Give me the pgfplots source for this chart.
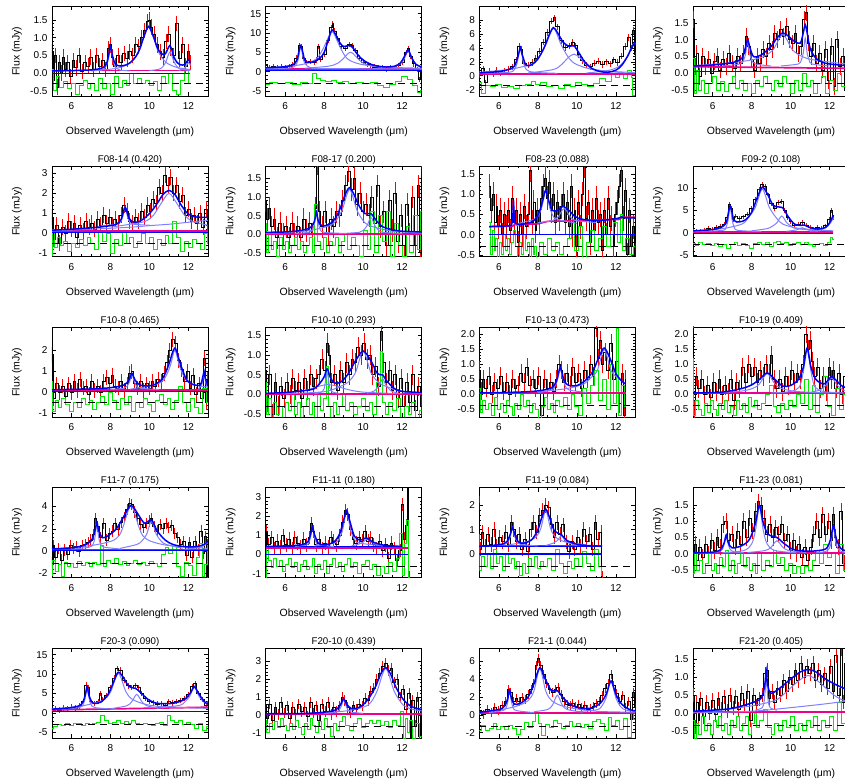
\documentclass[border=0pt]{standalone}
\usepackage{fontspec}
\setmainfont{Liberation Sans}
\usepackage{pgfplots}
\pgfplotsset{compat=1.18}
\usepackage{pgfplotstable}
\usepgfplotslibrary{groupplots}
\usetikzlibrary{calc}
\definecolor{lgreen}{RGB}{0,235,0}
\pgfplotsset{
  spec/.style={draw=none, mark=none, error bars/.cd, y dir=both, y fixed=#1, error mark=none, error bar style={draw=red, line width=1.0pt}},
  binned/.style={black, line width=0.9pt, const plot mark mid},
  resid/.style={lgreen, line width=1.0pt, const plot mark mid},
  fit/.style={blue, line width=1.5pt, smooth},
  comp/.style={blue!50!white, line width=1.0pt, smooth},
  cont/.style={magenta, line width=1.7pt},
  zero/.style={blue, line width=1.1pt},
  off/.style={black, line width=0.8pt, dash pattern=on 7pt off 5pt},
  dec/.style={yticklabel style={/pgf/number format/fixed,/pgf/number format/fixed zerofill,/pgf/number format/precision=1}},
}
% ---------------- data: binned spectra and residuals ----------------
\pgfplotstableread[row sep=\\]{x y\\5.0 0.6\\5.1 -0.2\\5.2 0.5\\5.3 -0.4\\5.4 0.3\\5.5 0.0\\5.6 0.45\\5.7 0.1\\5.8 0.3\\5.95 -0.1\\6.1 0.35\\6.25 0.15\\6.4 0.5\\6.55 0.05\\6.7 0.3\\6.85 0.2\\7.0 0.45\\7.15 0.1\\7.3 0.5\\7.45 0.2\\7.6 0.35\\7.75 0.1\\7.9 0.7\\8.0 0.8\\8.1 0.45\\8.25 0.2\\8.4 0.5\\8.55 0.3\\8.7 0.55\\8.85 0.4\\9.0 0.6\\9.15 0.5\\9.3 0.8\\9.45 0.75\\9.6 1.0\\9.75 1.2\\9.9 1.45\\10.0 1.5\\10.1 1.3\\10.25 1.1\\10.4 0.8\\10.55 0.6\\10.7 0.45\\10.85 0.9\\11.0 1.1\\11.1 0.7\\11.25 0.5\\11.4 1.4\\11.55 0.4\\11.7 0.8\\11.85 0.2\\12.0 0.6\\12.1 0.3\\}\rA
\pgfplotstableread[row sep=\\]{x y\\5.0 0.1\\5.15 -0.5\\5.3 -0.1\\5.5 -0.4\\5.7 -0.25\\5.9 -0.45\\6.1 -0.3\\6.3 -0.6\\6.5 -0.35\\6.7 -0.2\\6.9 -0.45\\7.1 -0.3\\7.3 -0.5\\7.5 -0.15\\7.7 -0.45\\7.9 -0.3\\8.1 -0.6\\8.3 -0.1\\8.5 -0.4\\8.7 -0.2\\8.9 -0.35\\9.1 0.0\\9.3 -0.3\\9.5 -0.15\\9.7 -0.3\\9.9 -0.2\\10.1 -0.35\\10.3 -0.25\\10.5 -0.5\\10.7 -0.1\\10.9 -0.3\\11.1 0.0\\11.3 -0.5\\11.5 -0.6\\11.7 -0.2\\11.9 0.1\\12.1 -0.3\\}\gA
\pgfplotstableread[row sep=\\]{x y\\5.0 1.5\\5.2 1.0\\5.4 1.3\\5.6 0.9\\5.8 1.2\\6.0 1.1\\6.2 1.4\\6.4 1.8\\6.6 3.5\\6.75 6.8\\6.85 6.5\\6.95 3.5\\7.1 2.4\\7.3 2.6\\7.5 2.3\\7.6 3.0\\7.7 6.5\\7.8 3.2\\8.0 4.5\\8.2 8.0\\8.35 11.5\\8.45 12.5\\8.55 10.5\\8.7 8.5\\8.9 6.5\\9.1 6.0\\9.3 7.0\\9.45 6.8\\9.6 5.5\\9.8 3.5\\10.0 2.5\\10.2 1.8\\10.4 1.6\\10.6 1.2\\10.8 1.0\\11.0 0.9\\11.2 0.7\\11.4 1.1\\11.6 0.8\\11.8 1.5\\12.0 2.5\\12.2 5.0\\12.3 6.0\\12.45 4.0\\12.6 2.0\\12.8 0.5\\12.9 -2.0\\13.0 1.0\\}\rB
\pgfplotstableread[row sep=\\]{x y\\5.0 -3.2\\5.4 -2.8\\5.8 -3.1\\6.2 -2.9\\6.6 -3.3\\7.0 -2.8\\7.3 -3.0\\7.5 -0.6\\7.7 -1.8\\7.9 -2.2\\8.2 -2.6\\8.5 -2.4\\8.8 -2.9\\9.1 -2.5\\9.4 -3.0\\9.8 -2.7\\10.2 -3.1\\10.6 -2.9\\10.9 -3.5\\11.2 -4.0\\11.5 -3.4\\11.8 -2.6\\12.1 -1.2\\12.4 -2.0\\12.7 -3.5\\12.9 -5.5\\13.0 -5.0\\}\gB
\pgfplotstableread[row sep=\\]{x y\\5.0 0.2\\5.2 1.0\\5.3 -1.0\\5.5 0.6\\5.7 0.3\\5.9 0.8\\6.1 0.4\\6.3 0.7\\6.5 0.9\\6.7 1.3\\6.9 2.3\\7.05 4.2\\7.15 3.8\\7.3 1.8\\7.5 1.5\\7.7 1.9\\7.9 2.5\\8.1 3.5\\8.3 4.8\\8.5 6.2\\8.7 7.8\\8.85 8.3\\9.0 7.0\\9.2 5.0\\9.4 4.0\\9.6 4.3\\9.8 4.8\\9.95 4.3\\10.1 3.0\\10.3 2.2\\10.5 1.5\\10.7 1.3\\10.9 1.8\\11.1 2.1\\11.3 1.6\\11.5 2.0\\11.7 1.7\\11.9 2.3\\12.1 1.9\\12.3 2.8\\12.5 4.2\\12.65 5.5\\12.8 4.0\\12.9 6.5\\13.0 3.0\\}\rC
\pgfplotstableread[row sep=\\]{x y\\5.0 -1.0\\5.2 -2.5\\5.4 -1.4\\5.7 -1.6\\6.0 -1.3\\6.3 -1.7\\6.6 -1.5\\6.9 -1.8\\7.2 -1.4\\7.5 -1.2\\7.8 -0.8\\8.0 -1.3\\8.3 -1.0\\8.6 -1.6\\8.9 -1.4\\9.2 -1.8\\9.5 -1.2\\9.8 -1.6\\10.1 -0.9\\10.4 -1.3\\10.7 -1.5\\11.0 -1.1\\11.3 -0.4\\11.6 -0.8\\11.9 0.2\\12.1 -0.3\\12.3 0.5\\12.5 -0.4\\12.7 0.8\\12.85 -0.2\\12.9 -2.8\\13.0 -2.8\\}\gC
\pgfplotstableread[row sep=\\]{x y\\5.0 1.6\\5.1 0.2\\5.2 0.6\\5.35 -0.1\\5.5 0.5\\5.65 0.2\\5.8 0.4\\5.95 0.0\\6.1 0.35\\6.25 0.5\\6.4 0.1\\6.55 0.4\\6.7 0.2\\6.85 0.6\\7.0 0.3\\7.15 0.15\\7.3 0.5\\7.45 0.3\\7.6 0.6\\7.75 1.1\\7.85 0.8\\8.0 0.4\\8.15 0.1\\8.3 0.5\\8.45 0.3\\8.6 0.7\\8.75 0.5\\8.9 0.9\\9.05 0.7\\9.2 1.2\\9.35 1.0\\9.5 1.3\\9.65 1.1\\9.8 1.4\\9.95 1.0\\10.1 0.9\\10.25 1.2\\10.4 0.6\\10.55 0.8\\10.7 1.6\\10.8 1.8\\10.9 0.9\\11.05 0.5\\11.2 0.9\\11.35 0.3\\11.5 0.6\\11.65 0.1\\11.8 0.7\\11.95 -0.2\\12.1 0.8\\12.25 -0.4\\12.4 1.0\\12.55 0.2\\12.7 0.5\\12.85 -0.5\\13.0 0.6\\}\rD
\pgfplotstableread[row sep=\\]{x y\\5.0 0.45\\5.1 -0.6\\5.2 0.1\\5.35 -0.5\\5.5 -0.2\\5.7 -0.6\\5.9 -0.3\\6.1 -0.1\\6.3 -0.5\\6.5 -0.25\\6.7 -0.55\\6.9 -0.3\\7.1 -0.1\\7.3 -0.45\\7.5 -0.2\\7.7 -0.5\\7.9 -0.3\\8.1 -0.6\\8.3 -0.2\\8.5 -0.4\\8.7 -0.1\\8.9 -0.3\\9.1 -0.5\\9.3 -0.2\\9.5 -0.4\\9.7 -0.1\\9.9 -0.3\\10.1 -0.6\\10.3 -0.2\\10.5 -0.5\\10.7 0.0\\10.9 -0.4\\11.1 -0.2\\11.3 -0.6\\11.5 -0.3\\11.7 -0.1\\11.9 -0.6\\12.1 -0.2\\12.3 -0.5\\12.5 0.0\\12.7 -0.4\\12.9 -0.2\\13.0 -0.6\\}\gD
\pgfplotstableread[row sep=\\]{x y\\5.0 0.8\\5.1 -0.3\\5.25 0.4\\5.4 -0.5\\5.55 0.3\\5.7 0.0\\5.85 0.6\\6.0 0.2\\6.15 0.5\\6.3 -0.2\\6.45 0.4\\6.6 0.1\\6.75 0.6\\6.9 0.3\\7.05 0.5\\7.2 0.2\\7.35 0.7\\7.5 0.4\\7.65 0.9\\7.8 0.5\\7.95 0.8\\8.1 0.4\\8.25 0.7\\8.4 0.5\\8.55 0.9\\8.7 1.4\\8.85 1.1\\9.0 0.6\\9.15 0.5\\9.3 0.8\\9.45 0.6\\9.6 1.1\\9.75 0.8\\9.9 1.4\\10.05 1.1\\10.2 1.7\\10.35 1.5\\10.5 2.3\\10.65 2.0\\10.8 2.9\\10.95 2.4\\11.1 2.8\\11.25 2.0\\11.4 2.4\\11.55 1.6\\11.7 1.9\\11.85 0.9\\12.0 1.2\\12.15 0.6\\12.3 0.9\\12.45 0.5\\12.6 1.0\\12.75 0.3\\12.9 1.2\\13.0 0.4\\}\rE
\pgfplotstableread[row sep=\\]{x y\\5.0 -1.1\\5.1 0.2\\5.2 -0.7\\5.35 -0.2\\5.5 -0.6\\5.7 -0.4\\5.9 -0.9\\6.1 -0.5\\6.3 -0.7\\6.5 -0.3\\6.7 -0.6\\6.9 -0.2\\7.1 -0.5\\7.3 -0.8\\7.5 0.1\\7.7 -0.4\\7.9 0.0\\8.1 -1.0\\8.3 -0.3\\8.5 -0.6\\8.7 0.1\\8.9 -0.5\\9.1 -0.2\\9.3 -0.7\\9.5 -0.4\\9.7 0.0\\9.9 -0.5\\10.1 -0.2\\10.3 -0.8\\10.5 -0.3\\10.7 -0.6\\10.9 -0.1\\11.1 -0.5\\11.3 0.6\\11.5 -0.2\\11.7 -0.9\\11.9 -0.4\\12.1 -0.7\\12.3 -0.3\\12.5 -0.5\\12.7 -0.8\\12.9 0.0\\13.0 -0.5\\}\gE
\pgfplotstableread[row sep=\\]{x y\\5.0 0.9\\5.1 0.4\\5.2 0.7\\5.3 0.2\\5.45 0.4\\5.6 -0.1\\5.75 0.3\\5.9 0.0\\6.05 0.2\\6.2 -0.1\\6.35 0.3\\6.5 0.0\\6.65 0.2\\6.8 -0.1\\6.95 0.4\\7.1 0.1\\7.25 0.3\\7.4 0.0\\7.55 0.7\\7.65 1.9\\7.75 0.6\\7.9 0.2\\8.05 0.6\\8.2 0.0\\8.35 0.4\\8.5 0.2\\8.65 0.6\\8.8 0.5\\8.95 0.9\\9.1 1.3\\9.25 1.7\\9.4 1.2\\9.55 1.5\\9.7 0.8\\9.85 1.1\\10.0 0.6\\10.15 0.8\\10.3 0.5\\10.45 1.0\\10.6 0.3\\10.75 1.3\\10.9 0.2\\11.05 0.6\\11.2 -0.3\\11.35 0.9\\11.5 0.1\\11.65 1.1\\11.8 -0.2\\11.95 0.5\\12.1 -0.6\\12.25 0.8\\12.4 0.0\\12.55 1.0\\12.7 -0.3\\12.85 1.3\\12.95 -0.5\\13.0 1.8\\}\rF
\pgfplotstableread[row sep=\\]{x y\\5.0 0.3\\5.1 -0.5\\5.2 0.0\\5.35 -0.4\\5.5 -0.2\\5.65 -0.6\\5.8 -0.1\\5.95 -0.4\\6.1 -0.2\\6.25 -0.5\\6.4 -0.3\\6.55 -0.1\\6.7 -0.4\\6.85 -0.2\\7.0 -0.5\\7.15 -0.3\\7.3 -0.1\\7.45 -0.5\\7.6 0.8\\7.75 -0.2\\7.9 -0.4\\8.05 -0.1\\8.2 -0.5\\8.35 -0.2\\8.5 -0.3\\8.65 -0.1\\8.8 -0.5\\8.95 -0.2\\9.1 0.0\\9.3 -0.4\\9.5 -0.1\\9.7 -0.3\\9.9 -0.6\\10.1 0.1\\10.3 -0.4\\10.5 0.6\\10.7 -0.5\\10.9 0.5\\11.1 -0.2\\11.3 0.6\\11.5 -0.6\\11.7 0.3\\11.9 -0.3\\12.1 -0.6\\12.3 0.2\\12.5 -0.5\\12.7 0.5\\12.9 -0.4\\13.0 0.6\\}\gF
\pgfplotstableread[row sep=\\]{x y\\5.5 1.2\\5.6 0.6\\5.7 1.0\\5.8 0.3\\5.9 0.7\\6.0 0.2\\6.1 0.6\\6.2 0.0\\6.3 0.5\\6.4 0.2\\6.5 0.6\\6.6 0.1\\6.7 0.9\\6.8 0.3\\6.9 0.6\\7.0 -0.2\\7.1 0.5\\7.2 0.0\\7.3 0.7\\7.4 0.2\\7.5 0.5\\7.6 1.6\\7.7 0.3\\7.8 0.8\\7.9 0.1\\8.0 0.6\\8.1 0.3\\8.2 0.9\\8.3 1.2\\8.4 1.4\\8.5 0.9\\8.6 1.3\\8.7 0.6\\8.8 1.0\\8.9 0.3\\9.0 0.8\\9.1 0.4\\9.2 0.7\\9.3 1.0\\9.4 0.3\\9.5 0.8\\9.6 0.2\\9.7 1.2\\9.8 0.0\\9.9 0.6\\10.0 -0.3\\10.1 0.8\\10.2 0.2\\10.3 1.0\\10.4 1.7\\10.5 0.4\\10.6 0.8\\10.7 -0.2\\10.8 0.6\\10.9 0.1\\11.0 0.9\\11.1 0.3\\11.2 0.5\\11.3 -0.4\\11.4 0.6\\11.5 0.0\\11.6 0.9\\11.7 0.2\\11.8 0.4\\11.9 -0.3\\12.0 0.5\\12.1 0.8\\12.2 1.2\\12.3 1.6\\12.4 0.4\\12.5 1.1\\12.6 -0.5\\12.7 0.6\\12.8 -0.3\\12.9 0.2\\13.0 -0.5\\}\rG
\pgfplotstableread[row sep=\\]{x y\\5.5 0.3\\5.6 -0.5\\5.7 0.1\\5.8 -0.4\\5.9 -0.1\\6.0 -0.6\\6.1 -0.2\\6.2 -0.5\\6.3 0.0\\6.4 -0.4\\6.5 -0.1\\6.6 -0.5\\6.7 -0.2\\6.8 0.1\\6.9 -0.3\\7.0 -0.6\\7.1 -0.2\\7.2 -0.5\\7.3 0.0\\7.4 -0.4\\7.5 -0.2\\7.6 -0.6\\7.7 -0.1\\7.8 -0.5\\7.9 -0.3\\8.0 -0.6\\8.2 -0.2\\8.4 -0.5\\8.6 -0.1\\8.8 -0.4\\9.0 -0.2\\9.2 -0.5\\9.4 -0.3\\9.6 -0.1\\9.8 0.3\\10.0 -0.4\\10.2 0.2\\10.4 -0.6\\10.6 -0.2\\10.8 0.1\\11.0 -0.4\\11.2 -0.1\\11.4 0.2\\11.6 -0.3\\11.8 0.0\\12.0 0.3\\12.2 -0.2\\12.3 0.5\\12.4 -0.4\\12.6 -0.1\\12.8 -0.5\\13.0 -0.3\\}\gG
\pgfplotstableread[row sep=\\]{x y\\5.0 0.3\\5.2 0.5\\5.4 0.4\\5.6 0.6\\5.8 1.0\\6.0 0.9\\6.2 1.2\\6.4 1.5\\6.6 2.0\\6.75 3.5\\6.85 6.3\\6.95 5.5\\7.05 3.0\\7.2 3.8\\7.4 3.2\\7.6 3.6\\7.8 4.2\\8.0 5.5\\8.2 7.5\\8.4 9.8\\8.55 10.8\\8.7 10.3\\8.85 8.5\\9.0 6.5\\9.2 5.5\\9.4 6.8\\9.55 7.0\\9.7 5.0\\9.85 3.5\\10.0 2.5\\10.2 1.8\\10.4 2.0\\10.6 2.4\\10.8 1.8\\11.0 1.2\\11.2 0.9\\11.4 1.2\\11.6 1.0\\11.8 1.6\\12.0 3.0\\12.1 5.0\\12.2 3.5\\}\rH
\pgfplotstableread[row sep=\\]{x y\\5.0 -2.4\\5.2 -2.8\\5.4 -2.2\\5.6 -2.6\\5.8 -2.3\\6.0 -2.7\\6.2 -2.4\\6.4 -3.0\\6.6 -2.5\\6.8 -3.4\\7.0 -2.6\\7.2 -2.2\\7.4 -2.7\\7.6 -2.4\\7.8 -2.8\\8.0 -3.4\\8.2 -2.4\\8.4 -2.0\\8.6 -2.5\\8.8 -2.2\\9.0 -3.0\\9.2 -2.2\\9.4 -1.8\\9.6 -2.4\\9.8 -2.0\\10.0 -2.7\\10.2 -2.3\\10.4 -2.0\\10.6 -2.6\\10.8 -2.2\\11.0 -2.5\\11.2 -2.9\\11.4 -2.6\\11.6 -2.3\\11.8 -2.7\\12.0 -2.2\\12.1 -1.0\\12.2 -1.5\\}\gH
\pgfplotstableread[row sep=\\]{x y\\5.0 1.8\\5.1 -0.3\\5.25 0.4\\5.4 0.0\\5.55 0.3\\5.7 -0.2\\5.85 0.4\\6.0 0.0\\6.15 0.5\\6.3 0.1\\6.45 0.6\\6.6 0.2\\6.75 0.3\\6.9 -0.1\\7.05 0.5\\7.2 0.1\\7.35 0.3\\7.5 0.0\\7.65 0.5\\7.8 0.7\\7.95 0.4\\8.1 0.8\\8.25 0.3\\8.4 0.2\\8.55 0.5\\8.7 0.1\\8.85 0.4\\9.0 0.9\\9.1 1.0\\9.25 0.4\\9.4 0.2\\9.55 0.5\\9.7 0.1\\9.85 0.4\\10.0 0.2\\10.15 0.5\\10.3 0.3\\10.45 0.6\\10.6 0.5\\10.75 0.9\\10.9 1.4\\11.05 2.0\\11.2 2.5\\11.35 2.3\\11.5 1.5\\11.65 1.1\\11.8 0.5\\11.95 1.0\\12.1 0.2\\12.25 0.8\\12.4 -0.1\\12.55 0.4\\12.7 -0.3\\12.8 1.6\\12.9 -0.5\\13.0 0.6\\}\rI
\pgfplotstableread[row sep=\\]{x y\\5.0 0.5\\5.1 -0.9\\5.25 -0.4\\5.4 -0.7\\5.6 -0.3\\5.8 -0.6\\6.0 -0.9\\6.2 -0.5\\6.4 -0.7\\6.6 -0.3\\6.8 -0.6\\7.0 -0.4\\7.2 -0.8\\7.4 -0.5\\7.6 -0.2\\7.8 -0.6\\8.0 0.0\\8.2 -0.4\\8.4 -0.8\\8.6 -0.3\\8.8 -0.6\\9.0 -0.2\\9.2 -0.9\\9.4 -0.5\\9.6 -0.7\\9.8 -0.3\\10.0 -0.6\\10.2 -0.9\\10.4 -0.4\\10.6 -0.1\\10.8 -0.6\\11.0 -0.3\\11.2 -0.8\\11.4 -0.4\\11.6 0.3\\11.8 -0.5\\12.0 -0.9\\12.2 -0.3\\12.4 -0.7\\12.6 -1.0\\12.8 0.2\\13.0 -0.5\\}\gI
\pgfplotstableread[row sep=\\]{x y\\5.0 0.6\\5.1 -0.2\\5.2 0.5\\5.35 -0.5\\5.5 0.3\\5.65 -0.3\\5.8 0.2\\5.95 -0.1\\6.1 0.3\\6.25 0.0\\6.4 0.4\\6.55 0.1\\6.7 0.3\\6.85 -0.1\\7.0 0.4\\7.15 0.1\\7.3 0.5\\7.45 0.2\\7.6 0.4\\7.75 0.5\\7.9 0.9\\8.05 0.6\\8.15 1.3\\8.25 1.0\\8.4 0.3\\8.55 0.5\\8.7 0.1\\8.85 0.6\\9.0 0.3\\9.15 0.8\\9.3 0.5\\9.45 0.9\\9.6 0.8\\9.75 1.2\\9.9 1.0\\10.05 1.3\\10.2 0.9\\10.35 1.0\\10.5 0.5\\10.65 0.7\\10.8 0.2\\10.95 1.6\\11.05 0.8\\11.2 0.3\\11.35 0.6\\11.5 0.1\\11.65 0.5\\11.8 -0.1\\11.95 0.4\\12.1 -0.3\\12.25 0.3\\12.4 -0.2\\12.55 0.5\\12.7 -0.4\\12.85 0.2\\13.0 -0.3\\}\rJ
\pgfplotstableread[row sep=\\]{x y\\5.0 0.3\\5.1 -0.5\\5.2 -0.1\\5.35 -0.6\\5.5 -0.2\\5.65 -0.5\\5.8 -0.3\\5.95 -0.6\\6.1 -0.2\\6.25 -0.4\\6.4 0.0\\6.55 -0.5\\6.7 -0.2\\6.85 -0.6\\7.0 -0.3\\7.15 -0.1\\7.3 -0.5\\7.45 -0.2\\7.6 -0.6\\7.75 0.0\\7.9 -0.4\\8.05 -0.1\\8.15 0.7\\8.25 -0.3\\8.4 -0.6\\8.55 -0.2\\8.7 -0.5\\8.85 -0.3\\9.0 0.0\\9.2 -0.4\\9.4 -0.2\\9.6 -0.5\\9.8 -0.3\\10.0 -0.1\\10.2 -0.4\\10.4 -0.2\\10.6 -0.5\\10.8 0.3\\10.95 1.1\\11.05 -0.2\\11.2 -0.5\\11.4 -0.2\\11.6 -0.4\\11.8 -0.1\\12.0 -0.6\\12.2 -0.3\\12.4 -0.5\\12.6 -0.2\\12.8 -0.6\\13.0 -0.4\\}\gJ
\pgfplotstableread[row sep=\\]{x y\\5.0 0.8\\5.1 0.1\\5.2 0.5\\5.35 0.2\\5.5 0.6\\5.65 0.0\\5.8 0.4\\5.95 0.2\\6.1 0.6\\6.25 0.1\\6.4 0.4\\6.55 0.0\\6.7 0.5\\6.85 0.2\\7.0 0.3\\7.15 0.7\\7.3 0.4\\7.45 0.9\\7.6 0.3\\7.75 0.5\\7.9 0.2\\8.05 0.6\\8.2 -0.7\\8.35 0.5\\8.5 0.2\\8.65 0.4\\8.8 0.1\\8.95 0.5\\9.1 1.0\\9.2 0.8\\9.35 0.4\\9.5 0.7\\9.65 0.3\\9.8 0.9\\9.95 0.4\\10.1 0.7\\10.25 0.2\\10.4 0.8\\10.55 0.5\\10.7 1.0\\10.85 0.6\\11.0 2.2\\11.1 1.2\\11.2 1.8\\11.3 1.0\\11.45 1.4\\11.6 0.8\\11.75 1.7\\11.9 0.5\\12.05 1.1\\12.2 -0.3\\12.35 0.7\\12.45 -0.7\\12.5 0.5\\}\rK
\pgfplotstableread[row sep=\\]{x y\\5.0 0.2\\5.1 -0.6\\5.25 -0.2\\5.4 -0.5\\5.55 -0.3\\5.7 -0.7\\5.85 -0.1\\6.0 -0.5\\6.15 -0.3\\6.3 -0.6\\6.45 -0.2\\6.6 -0.4\\6.75 -0.7\\6.9 -0.3\\7.05 -0.5\\7.2 0.0\\7.35 -0.4\\7.5 -0.2\\7.65 -0.6\\7.8 -0.3\\7.95 -0.5\\8.1 -0.8\\8.25 -0.4\\8.4 -0.1\\8.55 -0.5\\8.7 -0.3\\8.85 -0.6\\9.0 -0.2\\9.2 -0.4\\9.4 -0.1\\9.6 -0.5\\9.8 0.0\\10.0 -0.4\\10.2 -0.7\\10.4 0.2\\10.6 -0.3\\10.8 0.3\\11.0 0.8\\11.2 -0.2\\11.4 0.5\\11.6 -0.5\\11.8 1.0\\11.95 -0.3\\12.1 2.2\\12.2 -0.7\\12.35 0.3\\12.5 -0.4\\}\gK
\pgfplotstableread[row sep=\\]{x y\\5.0 2.2\\5.05 -0.5\\5.15 0.6\\5.3 0.2\\5.45 0.5\\5.6 0.0\\5.75 0.3\\5.9 -0.1\\6.05 0.4\\6.2 0.1\\6.35 0.5\\6.5 0.0\\6.65 0.3\\6.8 0.1\\6.95 0.5\\7.1 -0.2\\7.25 0.4\\7.4 0.2\\7.55 0.9\\7.7 0.4\\7.85 1.0\\8.0 0.6\\8.15 0.9\\8.3 0.4\\8.45 0.8\\8.6 0.6\\8.75 1.0\\8.9 0.7\\9.0 1.3\\9.15 0.5\\9.3 0.2\\9.45 0.5\\9.6 0.1\\9.75 0.6\\9.9 0.3\\10.05 0.8\\10.2 0.4\\10.35 0.7\\10.5 0.5\\10.65 1.0\\10.8 2.0\\10.9 1.5\\11.0 1.8\\11.1 1.1\\11.25 0.6\\11.4 0.9\\11.55 0.2\\11.7 0.6\\11.85 0.1\\12.0 0.9\\12.1 0.5\\12.2 0.8\\12.35 0.2\\12.5 0.7\\12.65 0.0\\12.8 0.6\\12.95 -0.2\\13.0 0.5\\}\rL
\pgfplotstableread[row sep=\\]{x y\\5.0 1.2\\5.05 -0.7\\5.2 -0.2\\5.35 -0.5\\5.5 -0.7\\5.65 -0.3\\5.8 -0.6\\5.95 -0.2\\6.1 -0.5\\6.25 -0.7\\6.4 -0.3\\6.55 -0.5\\6.7 -0.2\\6.85 -0.6\\7.0 -0.4\\7.15 -0.7\\7.3 -0.2\\7.45 -0.5\\7.6 -0.3\\7.75 -0.6\\7.9 -0.1\\8.05 -0.4\\8.2 -0.2\\8.4 -0.5\\8.6 -0.3\\8.8 0.0\\9.0 0.3\\9.2 -0.4\\9.4 -0.6\\9.6 -0.3\\9.8 -0.5\\10.0 -0.2\\10.2 -0.4\\10.4 0.0\\10.6 -0.3\\10.8 0.5\\11.0 -0.5\\11.2 0.3\\11.4 -0.6\\11.6 0.0\\11.8 0.6\\12.0 -0.4\\12.2 -0.7\\12.4 0.2\\12.6 -0.5\\12.8 0.0\\13.0 -0.3\\}\gL
\pgfplotstableread[row sep=\\]{x y\\5.0 -1.0\\5.1 0.5\\5.2 -0.6\\5.35 0.2\\5.5 -0.8\\5.65 0.1\\5.8 -0.3\\5.95 0.5\\6.1 0.2\\6.25 0.4\\6.4 0.0\\6.55 0.5\\6.7 0.6\\6.85 0.8\\7.0 1.0\\7.15 1.5\\7.25 2.9\\7.35 2.2\\7.5 1.2\\7.65 2.5\\7.8 1.0\\7.95 1.6\\8.1 1.8\\8.25 2.5\\8.4 1.9\\8.55 2.6\\8.7 3.0\\8.85 3.7\\9.0 4.3\\9.1 4.2\\9.25 3.5\\9.4 2.9\\9.55 2.4\\9.7 2.1\\9.85 2.5\\10.0 2.7\\10.1 2.9\\10.25 2.2\\10.4 1.8\\10.55 2.4\\10.7 2.0\\10.85 2.5\\11.0 2.1\\11.15 2.3\\11.3 1.6\\11.45 1.2\\11.6 0.6\\11.75 0.9\\11.9 -0.4\\12.05 0.8\\12.2 -0.6\\12.35 0.9\\12.5 0.1\\12.65 1.8\\12.75 -0.2\\12.85 1.3\\12.95 -2.3\\13.0 0.6\\}\rM
\pgfplotstableread[row sep=\\]{x y\\5.0 -2.2\\5.1 -0.8\\5.25 -1.8\\5.4 -1.2\\5.55 -2.3\\5.7 -1.0\\5.85 -1.4\\6.0 -1.1\\6.2 -1.5\\6.4 -0.9\\6.6 -1.3\\6.8 -1.0\\7.0 -1.4\\7.2 -1.0\\7.4 -1.2\\7.6 0.5\\7.7 -1.4\\7.9 -0.8\\8.1 -1.1\\8.3 -0.7\\8.5 -1.2\\8.7 -0.9\\8.9 -1.3\\9.1 -1.1\\9.3 -0.8\\9.5 -1.2\\9.7 -1.0\\9.9 -1.3\\10.1 -0.9\\10.3 -1.1\\10.5 -1.4\\10.7 -0.3\\10.9 0.3\\11.1 -0.2\\11.3 0.4\\11.5 -1.4\\11.7 -2.3\\11.9 -1.0\\12.1 -1.3\\12.3 -2.2\\12.5 -0.6\\12.65 0.7\\12.75 -2.3\\12.9 -1.2\\13.0 0.5\\}\gM
\pgfplotstableread[row sep=\\]{x y\\5.0 -1.2\\5.05 1.2\\5.15 0.5\\5.3 0.9\\5.45 0.3\\5.6 0.7\\5.75 0.4\\5.9 1.0\\6.05 0.5\\6.2 0.8\\6.35 0.3\\6.5 0.9\\6.65 0.6\\6.8 0.4\\6.95 0.8\\7.1 0.5\\7.25 0.9\\7.35 1.6\\7.45 1.2\\7.6 0.5\\7.75 0.8\\7.9 0.3\\8.05 0.6\\8.2 0.4\\8.35 0.9\\8.5 0.7\\8.65 0.5\\8.8 1.0\\8.95 1.7\\9.1 2.3\\9.2 2.1\\9.35 1.3\\9.5 0.8\\9.65 0.6\\9.8 0.9\\9.95 0.7\\10.1 1.2\\10.25 0.7\\10.4 0.9\\10.55 0.5\\10.7 0.3\\10.85 0.7\\11.0 0.2\\11.15 0.5\\11.3 -0.2\\11.45 0.6\\11.6 0.3\\11.75 -0.3\\11.9 0.2\\12.0 2.6\\12.1 0.8\\12.2 1.5\\12.3 3.5\\12.35 -1.2\\}\rN
\pgfplotstableread[row sep=\\]{x y\\5.0 -1.2\\5.05 0.3\\5.2 -0.3\\5.35 -0.7\\5.5 -0.2\\5.65 -0.6\\5.8 -0.3\\5.95 -0.9\\6.1 -0.5\\6.25 -0.2\\6.4 -0.7\\6.55 -0.4\\6.7 -0.9\\6.85 -0.5\\7.0 -0.3\\7.15 -0.8\\7.3 -0.6\\7.45 -0.2\\7.6 -1.0\\7.75 -0.5\\7.9 -0.8\\8.05 -0.3\\8.2 -1.0\\8.35 -0.5\\8.5 -0.2\\8.65 -0.7\\8.8 -0.4\\8.95 -0.9\\9.1 -0.5\\9.25 -0.2\\9.4 -0.7\\9.6 -0.4\\9.8 -1.0\\10.0 -0.5\\10.2 -0.3\\10.4 -0.8\\10.6 -0.5\\10.8 -1.1\\11.0 -0.6\\11.2 -1.0\\11.4 -0.4\\11.6 -0.9\\11.8 -0.2\\11.95 1.1\\12.05 -1.1\\12.15 0.6\\12.3 1.8\\12.35 -1.2\\}\gN
\pgfplotstableread[row sep=\\]{x y\\5.0 2.1\\5.05 0.2\\5.15 0.9\\5.3 0.3\\5.45 0.8\\5.6 0.4\\5.75 1.0\\5.9 0.3\\6.05 0.7\\6.2 0.5\\6.35 0.9\\6.5 0.4\\6.65 1.3\\6.75 1.0\\6.9 0.5\\7.05 0.8\\7.2 0.2\\7.35 0.6\\7.5 0.1\\7.65 1.0\\7.8 1.3\\7.95 0.9\\8.1 1.6\\8.25 1.8\\8.4 2.0\\8.55 1.9\\8.7 1.2\\8.85 0.7\\9.0 1.3\\9.15 0.8\\9.3 1.2\\9.45 0.5\\9.6 0.1\\9.75 0.5\\9.9 0.2\\10.05 0.7\\10.2 0.3\\10.35 1.0\\10.5 0.5\\10.65 0.8\\10.8 0.2\\10.95 1.3\\11.1 0.6\\11.25 0.9\\11.3 -1.0\\}\rO
\pgfplotstableread[row sep=\\]{x y\\5.0 0.8\\5.05 -0.7\\5.2 -0.1\\5.35 -0.5\\5.5 0.0\\5.65 -0.6\\5.8 0.2\\5.95 -0.4\\6.1 -0.1\\6.25 -0.7\\6.4 0.0\\6.55 -0.4\\6.7 -0.2\\6.85 -0.6\\7.0 -0.3\\7.15 -0.9\\7.3 -0.4\\7.45 -0.8\\7.6 -0.2\\7.75 -0.5\\7.9 -0.1\\8.05 -0.6\\8.2 -0.3\\8.4 -0.5\\8.6 -0.2\\8.8 -0.7\\9.0 0.2\\9.2 -0.4\\9.4 -0.8\\9.6 -0.3\\9.8 -0.6\\10.0 -0.2\\10.2 -0.5\\10.4 0.1\\10.6 -0.4\\10.8 -0.7\\11.0 0.2\\11.2 -0.5\\11.3 -0.9\\}\gO
\pgfplotstableread[row sep=\\]{x y\\5.0 -0.6\\5.1 0.3\\5.2 -0.2\\5.35 0.2\\5.5 -0.1\\5.65 0.3\\5.8 0.0\\5.95 0.4\\6.1 0.1\\6.25 0.5\\6.4 0.2\\6.55 0.9\\6.7 1.0\\6.85 0.4\\7.0 0.6\\7.15 0.2\\7.3 0.7\\7.45 0.3\\7.6 1.0\\7.75 0.5\\7.9 1.1\\8.05 0.7\\8.2 1.3\\8.35 1.6\\8.5 1.5\\8.65 1.1\\8.8 0.6\\8.95 0.9\\9.1 0.5\\9.25 0.8\\9.4 0.6\\9.55 0.9\\9.7 0.4\\9.85 0.6\\10.0 0.1\\10.15 0.4\\10.3 0.0\\10.45 0.3\\10.6 -0.1\\10.75 0.2\\10.9 -0.2\\11.05 0.2\\11.2 0.6\\11.35 1.0\\11.5 0.5\\11.65 1.2\\11.8 0.6\\11.95 1.0\\12.1 0.4\\12.2 1.2\\12.3 0.5\\12.45 0.2\\12.6 1.3\\12.75 -0.3\\12.9 0.5\\13.0 1.7\\}\rP
\pgfplotstableread[row sep=\\]{x y\\5.0 -0.6\\5.1 0.0\\5.25 -0.5\\5.4 -0.2\\5.55 -0.6\\5.7 -0.3\\5.85 0.0\\6.0 -0.5\\6.15 -0.3\\6.3 -0.6\\6.45 -0.1\\6.6 -0.4\\6.75 0.1\\6.9 -0.5\\7.05 -0.2\\7.2 -0.6\\7.35 -0.3\\7.5 0.0\\7.65 -0.4\\7.8 -0.1\\7.95 -0.5\\8.1 -0.3\\8.25 -0.6\\8.4 0.0\\8.6 -0.5\\8.8 -0.2\\9.0 -0.4\\9.2 0.1\\9.4 -0.3\\9.6 -0.1\\9.8 -0.5\\10.0 -0.3\\10.2 -0.6\\10.4 -0.4\\10.6 -0.6\\10.8 -0.4\\11.0 -0.5\\11.2 -0.2\\11.4 0.1\\11.6 -0.3\\11.8 0.3\\12.0 -0.1\\12.2 0.0\\12.4 -0.6\\12.6 0.3\\12.8 -0.5\\12.9 1.2\\13.0 0.5\\}\gP
\pgfplotstableread[row sep=\\]{x y\\5.0 0.5\\5.2 1.2\\5.4 0.8\\5.6 1.3\\5.8 1.0\\6.0 1.5\\6.2 1.3\\6.4 1.8\\6.6 3.0\\6.75 7.2\\6.85 6.5\\7.0 3.0\\7.2 2.5\\7.4 3.0\\7.5 5.0\\7.6 3.5\\7.8 4.5\\8.0 6.5\\8.2 9.0\\8.35 11.5\\8.5 11.0\\8.7 8.5\\8.9 7.0\\9.1 6.5\\9.3 7.0\\9.45 6.5\\9.6 5.0\\9.8 3.8\\10.0 3.0\\10.2 2.6\\10.4 2.3\\10.6 2.5\\10.8 2.0\\11.0 3.0\\11.2 2.6\\11.4 3.0\\11.6 3.2\\11.8 3.8\\12.0 4.8\\12.2 6.8\\12.35 7.5\\12.5 5.0\\12.7 3.5\\12.9 2.0\\13.0 2.5\\}\rQ
\pgfplotstableread[row sep=\\]{x y\\5.0 -4.0\\5.2 -3.5\\5.4 -3.0\\5.6 -3.3\\5.8 -2.7\\6.0 -3.1\\6.2 -2.8\\6.4 -2.6\\6.6 -3.2\\6.8 -2.7\\7.0 -3.0\\7.2 -2.8\\7.4 -2.5\\7.6 -0.6\\7.8 -2.0\\8.0 -2.6\\8.2 -2.3\\8.4 -2.0\\8.6 -2.7\\8.8 -2.2\\9.0 -2.8\\9.2 -2.0\\9.4 -2.6\\9.6 -3.0\\9.8 -2.6\\10.0 -2.9\\10.2 -3.2\\10.4 -2.8\\10.6 -2.5\\10.8 -3.1\\11.0 -0.5\\11.2 -1.8\\11.4 -2.4\\11.6 -2.0\\11.8 -3.0\\12.0 -2.5\\12.2 -3.0\\12.4 -4.0\\12.6 -2.7\\12.8 -4.5\\13.0 -3.5\\}\gQ
\pgfplotstableread[row sep=\\]{x y\\5.0 0.5\\5.1 -0.2\\5.2 0.6\\5.35 -0.3\\5.5 0.4\\5.65 0.0\\5.8 0.7\\5.95 0.1\\6.1 0.5\\6.25 -0.2\\6.4 0.4\\6.55 0.0\\6.7 0.6\\6.85 0.2\\7.0 0.4\\7.15 -0.1\\7.3 0.7\\7.45 0.1\\7.6 0.5\\7.75 -0.3\\7.9 0.6\\8.05 0.2\\8.2 0.7\\8.35 0.0\\8.5 0.4\\8.65 0.2\\8.8 0.5\\8.95 1.0\\9.05 0.8\\9.2 0.4\\9.35 0.1\\9.5 0.5\\9.65 0.3\\9.8 0.6\\9.95 0.5\\10.1 0.9\\10.25 0.8\\10.4 1.3\\10.55 1.5\\10.7 2.0\\10.85 2.3\\11.0 2.7\\11.15 2.9\\11.3 2.5\\11.45 2.6\\11.6 1.8\\11.75 2.0\\11.9 1.0\\12.05 1.4\\12.2 0.3\\12.35 1.2\\12.45 -1.3\\12.55 0.8\\12.7 -0.6\\12.8 1.0\\12.9 -1.2\\13.0 0.3\\}\rR
\pgfplotstableread[row sep=\\]{x y\\5.0 -0.3\\5.1 -1.0\\5.25 -0.5\\5.4 -0.8\\5.55 -0.4\\5.7 -0.7\\5.85 -0.2\\6.0 -0.6\\6.15 -0.9\\6.3 -0.5\\6.45 -0.8\\6.6 -0.3\\6.75 -0.7\\6.9 -1.1\\7.05 -0.5\\7.2 -0.8\\7.35 -0.2\\7.5 -0.6\\7.65 -1.0\\7.8 -0.4\\7.95 -0.8\\8.1 -0.2\\8.25 -0.7\\8.4 -1.2\\8.55 -0.5\\8.7 -0.9\\8.85 -0.4\\9.0 -0.1\\9.2 -0.6\\9.4 -0.9\\9.6 -0.5\\9.8 -0.2\\10.0 -0.7\\10.2 -0.5\\10.4 -0.3\\10.6 -0.5\\10.8 -0.3\\11.0 -0.6\\11.2 -0.4\\11.4 -0.7\\11.6 -0.3\\11.8 -0.6\\12.0 0.2\\12.1 -1.3\\12.2 -0.2\\12.3 -1.0\\12.45 -0.3\\12.6 -1.3\\12.8 -0.5\\13.0 -1.2\\}\gR
\pgfplotstableread[row sep=\\]{x y\\5.0 0.5\\5.2 0.0\\5.4 0.6\\5.6 0.3\\5.8 0.8\\6.0 0.5\\6.2 1.0\\6.35 1.5\\6.5 2.9\\6.6 2.5\\6.75 1.5\\6.9 1.8\\7.05 1.5\\7.2 2.0\\7.35 1.7\\7.5 2.3\\7.65 2.8\\7.8 3.5\\7.95 5.5\\8.05 6.3\\8.15 5.5\\8.3 4.5\\8.45 3.5\\8.6 2.8\\8.75 2.5\\8.9 2.9\\9.05 3.1\\9.2 2.3\\9.35 1.5\\9.5 1.2\\9.65 1.0\\9.8 1.3\\9.95 0.9\\10.1 1.2\\10.25 0.8\\10.4 1.0\\10.55 0.6\\10.7 0.7\\10.85 0.9\\11.0 1.3\\11.15 1.5\\11.3 2.2\\11.45 3.0\\11.6 3.5\\11.75 4.5\\11.9 3.3\\12.05 2.4\\12.2 1.5\\12.35 2.2\\12.5 0.8\\12.65 1.5\\12.8 -0.5\\12.9 2.5\\13.0 0.8\\}\rS
\pgfplotstableread[row sep=\\]{x y\\5.0 -1.8\\5.2 -1.2\\5.4 -1.8\\5.6 -1.5\\5.8 -1.0\\6.0 -1.6\\6.2 -1.3\\6.4 -1.7\\6.6 -1.2\\6.8 -1.5\\7.0 -2.2\\7.2 -1.6\\7.4 -0.9\\7.6 -1.4\\7.8 -0.7\\7.95 0.1\\8.1 -1.0\\8.3 -2.3\\8.5 -1.1\\8.7 -1.4\\8.9 -0.6\\9.1 -1.0\\9.3 -1.5\\9.5 -1.2\\9.7 -0.8\\9.9 -1.3\\10.1 -1.0\\10.3 -1.4\\10.5 -1.1\\10.7 -1.5\\10.9 -0.8\\11.1 -0.5\\11.3 -1.0\\11.5 -1.8\\11.7 -0.3\\11.9 -1.2\\12.1 -0.6\\12.3 -1.6\\12.5 -0.4\\12.7 -2.5\\12.85 0.3\\13.0 -0.5\\}\gS
\pgfplotstableread[row sep=\\]{x y\\5.0 0.5\\5.1 -0.4\\5.2 0.3\\5.3 -0.2\\5.4 0.4\\5.55 -0.1\\5.7 0.3\\5.85 0.0\\6.0 0.35\\6.15 -0.05\\6.3 0.4\\6.45 0.1\\6.6 0.45\\6.75 0.05\\6.9 0.5\\7.05 0.15\\7.2 0.45\\7.35 0.1\\7.5 0.55\\7.65 0.2\\7.8 0.6\\7.95 -0.2\\8.1 0.5\\8.25 0.2\\8.4 0.4\\8.55 0.5\\8.7 1.1\\8.8 1.2\\8.9 0.4\\9.05 0.6\\9.2 0.3\\9.35 0.7\\9.5 0.5\\9.65 0.9\\9.8 0.6\\9.95 1.0\\10.1 0.8\\10.25 1.2\\10.4 0.9\\10.55 1.4\\10.7 1.0\\10.85 1.3\\11.0 1.1\\11.15 1.4\\11.3 0.9\\11.45 1.2\\11.6 0.8\\11.75 1.1\\11.9 0.7\\12.05 1.3\\12.2 0.6\\12.35 1.6\\12.5 0.5\\12.6 1.8\\12.7 0.3\\12.8 1.4\\12.9 0.2\\13.0 0.9\\}\rT
\pgfplotstableread[row sep=\\]{x y\\5.0 -0.2\\5.1 -0.7\\5.2 -0.3\\5.35 -0.6\\5.5 -0.1\\5.65 -0.5\\5.8 -0.3\\5.95 -0.6\\6.1 -0.2\\6.25 -0.4\\6.4 -0.1\\6.55 -0.5\\6.7 -0.3\\6.85 -0.6\\7.0 -0.2\\7.15 -0.4\\7.3 -0.1\\7.45 -0.5\\7.6 -0.3\\7.75 -0.1\\7.9 -0.6\\8.05 -0.3\\8.2 0.0\\8.35 -0.4\\8.5 -0.2\\8.7 0.1\\8.9 -0.4\\9.1 -0.6\\9.3 -0.3\\9.5 -0.5\\9.7 -0.2\\9.9 -0.4\\10.1 -0.1\\10.3 -0.5\\10.5 -0.3\\10.7 -0.5\\10.9 -0.2\\11.1 -0.4\\11.3 -0.1\\11.5 -0.5\\11.7 -0.2\\11.9 -0.4\\12.1 -0.1\\12.3 -0.5\\12.5 0.3\\12.7 -0.3\\12.9 0.5\\13.0 0.2\\}\gT
\begin{document}
\begin{tikzpicture}
\begin{groupplot}[
  group style={group size=4 by 5, horizontal sep=57.7pt, vertical sep=70.5pt},
  scale only axis, width=156pt, height=90pt,
  xmin=5, xmax=13, xtick={6,8,10,12}, minor x tick num=3, minor y tick num=4,
  tick align=inside, major tick length=4pt, minor tick length=2pt,
  axis line style={line width=0.8pt},
  every tick/.style={black, line width=0.6pt},
  tick label style={font=\fontsize{10}{12}\selectfont},
  /pgf/number format/assume math mode=true,
  xlabel={Observed Wavelength (μm)}, ylabel={Flux (mJy)},
  label style={font=\fontsize{10.5}{12}\selectfont},
  xlabel style={at={(axis description cs:0.5,-0.4)}, anchor=center},
  ylabel style={at={(axis description cs:-0.225,0.5)}, anchor=center},
  title style={font=\fontsize{9.7}{11}\selectfont, yshift=-8pt},
  xticklabel style={yshift=-3pt},
  yticklabel style={xshift=-1pt},
]
% ---------- P1 ----------
\nextgroupplot[dec, ymin=-0.65, ymax=1.9, ytick={-0.5,0,0.5,1,1.5}]
\addplot[spec=0.22] table {\rA};
\addplot[binned] table {\rA};
\addplot[resid] table {\gA};
\addplot[off] coordinates {(5,-0.3)(13,-0.3)};
\addplot[zero] coordinates {(5,0.0)(12.1,0.0)};
\addplot[cont] coordinates {(5,0.07)(12.1,0.07)};
\addplot[comp] coordinates {(7.0,0.06)(7.5,0.085)(7.7,0.14)(7.8,0.22)(7.9,0.43)(8.0,0.7)(8.1,0.43)(8.2,0.22)(8.3,0.14)(8.5,0.085)(9.0,0.06)};
\addplot[comp] coordinates {(5.0,0.06)(7.0,0.08)(8.0,0.11)(8.5,0.16)(9.0,0.28)(9.3,0.46)(9.5,0.68)(9.7,1.01)(9.95,1.3)(10.2,1.01)(10.4,0.68)(10.6,0.46)(10.9,0.28)(11.4,0.16)(12.1,0.1)};
\addplot[comp] coordinates {(10.0,0.07)(10.5,0.11)(10.7,0.19)(10.85,0.33)(10.95,0.49)(11.05,0.6)(11.15,0.49)(11.25,0.33)(11.4,0.19)(11.6,0.11)(12.1,0.07)};
\addplot[comp] coordinates {(11.5,0.07)(11.8,0.14)(11.9,0.22)(12.0,0.3)(12.1,0.22)};
\addplot[fit] coordinates {(5.0,0.06)(6.0,0.07)(7.0,0.09)(7.5,0.13)(7.7,0.19)(7.8,0.27)(7.9,0.49)(8.0,0.76)(8.1,0.5)(8.2,0.3)(8.3,0.23)(8.5,0.2)(8.8,0.23)(9.0,0.29)(9.3,0.47)(9.5,0.68)(9.7,1.01)(9.95,1.32)(10.2,1.04)(10.4,0.72)(10.6,0.55)(10.8,0.54)(10.95,0.7)(11.05,0.78)(11.15,0.65)(11.25,0.46)(11.4,0.31)(11.6,0.23)(11.8,0.24)(11.9,0.31)(12.0,0.38)(12.1,0.3)};
% ---------- P2 ----------
\nextgroupplot[ymin=-6.3, ymax=17, ytick={-5,0,5,10,15}]
\addplot[spec=0.7] table {\rB};
\addplot[binned] table {\rB};
\addplot[resid] table {\gB};
\addplot[off] coordinates {(5,-3)(13,-3)};
\addplot[zero] coordinates {(5,0.2)(13,0.2)};
\addplot[cont] coordinates {(5,0.7)(13,0.7)};
\addplot[comp] coordinates {(5.0,0.8)(6.3,1.0)(6.6,2.2)(6.7,4.0)(6.8,6.5)(6.9,4.0)(7.0,2.2)(7.3,1.0)(8.0,0.8)(13,0.7)};
\addplot[comp] coordinates {(5.0,1.0)(6.0,1.3)(7.0,2.0)(7.6,3.3)(7.9,5.5)(8.1,7.6)(8.4,10.4)(8.7,7.6)(8.9,5.5)(9.2,3.3)(9.8,2.0)(11,1.2)(13,0.9)};
\addplot[comp] coordinates {(7.0,0.9)(8.2,1.4)(8.7,2.2)(9.0,3.5)(9.2,4.6)(9.35,5.0)(9.5,4.6)(9.7,3.5)(10.0,2.2)(10.5,1.4)(12,0.9)};
\addplot[comp] coordinates {(10.5,0.8)(11.5,1.2)(11.9,2.0)(12.1,3.3)(12.3,5.3)(12.5,3.3)(12.7,2.0)(13,1.2)};
\addplot[fit] coordinates {(5.0,1.0)(5.5,1.1)(6.0,1.3)(6.4,1.8)(6.6,3.0)(6.8,6.7)(7.0,3.0)(7.2,2.4)(7.5,2.6)(7.8,3.6)(8.0,5.0)(8.2,8.0)(8.4,10.8)(8.6,9.5)(8.8,7.5)(9.0,6.5)(9.3,6.8)(9.5,6.0)(9.7,4.5)(10.0,3.0)(10.4,1.9)(10.8,1.4)(11.2,1.2)(11.6,1.4)(11.9,2.2)(12.1,3.8)(12.3,5.6)(12.5,3.5)(12.7,1.9)(13.0,1.2)};
% ---------- P3 ----------
\nextgroupplot[ymin=-2.9, ymax=10, ytick={-2,0,2,4,6,8}]
\addplot[spec=0.45] table {\rC};
\addplot[binned] table {\rC};
\addplot[resid] table {\gC};
\addplot[off] coordinates {(5,-1.4)(13,-1.4)};
\addplot[zero] coordinates {(5,0.15)(13,0.15)};
\addplot[cont] coordinates {(5,0.3)(13,0.3)};
\addplot[comp] coordinates {(5,0.35)(6.5,0.5)(6.8,0.9)(6.95,2.0)(7.1,4.0)(7.25,2.0)(7.4,0.9)(7.8,0.5)(9,0.35)};
\addplot[comp] coordinates {(5,0.5)(6.5,0.9)(7.6,1.6)(8.0,2.5)(8.4,4.4)(8.8,6.8)(9.2,4.4)(9.6,2.5)(10.0,1.6)(11,0.8)(13,0.45)};
\addplot[comp] coordinates {(7.5,0.4)(8.8,0.9)(9.25,1.7)(9.55,2.6)(9.85,3.1)(10.15,2.6)(10.45,1.7)(10.9,0.9)(12.5,0.4)};
\addplot[comp] coordinates {(10.5,0.4)(11.5,0.7)(12.0,1.1)(12.3,1.7)(12.6,2.8)(12.9,4.6)(13,4.5)};
\addplot[fit] coordinates {(5.0,0.4)(5.5,0.5)(6.0,0.6)(6.5,0.9)(6.8,1.4)(7.0,3.0)(7.1,4.1)(7.2,3.0)(7.4,1.5)(7.7,1.6)(8.0,2.4)(8.3,3.9)(8.6,6.0)(8.8,6.9)(9.0,6.2)(9.3,4.8)(9.6,4.2)(9.85,4.3)(10.1,3.3)(10.4,2.0)(10.8,1.0)(11.2,0.6)(11.6,0.5)(12.0,0.8)(12.3,1.5)(12.6,2.8)(12.8,4.0)(13.0,4.8)};
% ---------- P4 ----------
\nextgroupplot[dec, ymin=-0.67, ymax=2.0, ytick={-0.5,0,0.5,1,1.5}]
\addplot[spec=0.25] table {\rD};
\addplot[binned] table {\rD};
\addplot[resid] table {\gD};
\addplot[off] coordinates {(5,-0.3)(13,-0.3)};
\addplot[zero] coordinates {(5,0.05)(13,0.05)};
\addplot[cont] coordinates {(5,0.2)(13,0.15)};
\addplot[comp] coordinates {(6.5,0.22)(7.4,0.28)(7.6,0.4)(7.7,0.6)(7.8,0.95)(7.9,0.6)(8.0,0.4)(8.2,0.28)(9.0,0.22)};
\addplot[comp] coordinates {(5,0.23)(7,0.32)(8.0,0.4)(8.6,0.5)(9.1,0.7)(9.6,1.15)(10.1,0.7)(10.6,0.5)(11.2,0.4)(13,0.27)};
\addplot[comp] coordinates {(9.5,0.22)(10.4,0.28)(10.55,0.4)(10.65,0.6)(10.75,1.05)(10.85,0.6)(10.95,0.4)(11.1,0.28)(12,0.22)};
\addplot[fit] coordinates {(5.0,0.22)(6.0,0.25)(7.0,0.32)(7.5,0.45)(7.7,0.8)(7.8,1.0)(7.9,0.8)(8.1,0.5)(8.5,0.55)(9.0,0.8)(9.3,1.05)(9.6,1.2)(9.9,1.1)(10.2,0.95)(10.5,0.9)(10.65,1.2)(10.75,1.45)(10.85,1.2)(11.0,0.75)(11.3,0.45)(11.8,0.3)(12.5,0.25)(13.0,0.22)};
% ---------- P5 ----------
\nextgroupplot[title={F08-14 (0.420)}, ymin=-1.17, ymax=3.35, ytick={-1,0,1,2,3}]
\addplot[spec=0.4] table {\rE};
\addplot[binned] table {\rE};
\addplot[resid] table {\gE};
\addplot[off] coordinates {(5,-0.5)(13,-0.5)};
\addplot[zero] coordinates {(5,0.05)(13,0.05)};
\addplot[cont] coordinates {(5,0.1)(13,0.1)};
\addplot[comp] coordinates {(5,0.12)(7,0.2)(9,0.3)(10,0.38)(11,0.45)(12,0.55)(13,0.65)};
\addplot[comp] coordinates {(7.5,0.37)(8.3,0.45)(8.5,0.55)(8.62,0.8)(8.75,1.35)(8.88,0.8)(9.0,0.55)(9.2,0.45)(10.0,0.4)};
\addplot[comp] coordinates {(8.0,0.3)(9.0,0.45)(9.8,0.6)(10.2,0.9)(10.6,1.5)(11.0,2.0)(11.4,1.5)(11.8,0.9)(12.2,0.6)(13,0.4)};
\addplot[fit] coordinates {(5.0,0.15)(6.0,0.2)(7.0,0.27)(7.8,0.35)(8.3,0.45)(8.55,0.7)(8.75,1.3)(8.95,0.75)(9.2,0.55)(9.5,0.6)(9.8,0.8)(10.1,1.1)(10.4,1.5)(10.7,1.95)(11.0,2.15)(11.3,1.95)(11.6,1.45)(11.9,1.05)(12.2,0.85)(12.6,0.8)(13.0,0.8)};
% ---------- P6 ----------
\nextgroupplot[dec, title={F08-17 (0.200)}, ymin=-0.6, ymax=1.82, ytick={-0.5,0,0.5,1,1.5}]
\addplot[spec=0.3] table {\rF};
\addplot[binned] table {\rF};
\addplot[resid] table {\gF};
\addplot[off] coordinates {(5,-0.3)(13,-0.3)};
\addplot[zero] coordinates {(5,0.0)(13,0.0)};
\addplot[cont] coordinates {(5,0.01)(13,0.01)};
\addplot[comp] coordinates {(6.5,0.02)(7.2,0.05)(7.4,0.12)(7.5,0.29)(7.6,0.55)(7.7,0.29)(7.8,0.12)(8.0,0.05)(9,0.02)};
\addplot[comp] coordinates {(5,0.02)(7,0.08)(8.1,0.2)(8.5,0.3)(8.9,0.62)(9.3,1.2)(9.7,0.62)(10.1,0.3)(10.5,0.2)(11.5,0.08)(13,0.03)};
\addplot[comp] coordinates {(9,0.02)(9.8,0.05)(10.0,0.1)(10.2,0.23)(10.4,0.45)(10.6,0.23)(10.8,0.1)(11.0,0.05)(12,0.02)};
\addplot[fit] coordinates {(5.0,0.05)(6.0,0.06)(6.8,0.1)(7.3,0.18)(7.5,0.35)(7.6,0.6)(7.7,0.35)(7.9,0.22)(8.3,0.28)(8.6,0.45)(8.9,0.8)(9.1,1.1)(9.3,1.25)(9.5,1.1)(9.8,0.75)(10.1,0.55)(10.4,0.55)(10.7,0.35)(11.0,0.2)(11.5,0.12)(12.0,0.08)(13.0,0.06)};
% ---------- P7 ----------
\nextgroupplot[dec, title={F08-23 (0.088)}, ymin=-0.54, ymax=1.69, ytick={-0.5,0,0.5,1,1.5}]
\addplot[spec=0.3] table {\rG};
\addplot[binned] table {\rG};
\addplot[resid] table {\gG};
\addplot[off] coordinates {(5,-0.3)(13,-0.3)};
\addplot[zero] coordinates {(5.5,0.0)(13,0.0)};
\addplot[cont] coordinates {(5.5,0.2)(6.7,0.21)(6.8,0.25)(8.0,0.27)(8.5,0.33)(12.2,0.38)(12.3,0.43)(13,0.43)};
\addplot[comp] coordinates {(6.5,0.22)(6.65,0.25)(6.72,0.45)(6.75,0.8)(6.78,0.45)(6.85,0.25)(7.0,0.22)};
\addplot[comp] coordinates {(7.0,0.28)(7.8,0.38)(8.0,0.45)(8.2,0.68)(8.4,1.1)(8.6,0.68)(8.8,0.45)(9.0,0.38)(10.0,0.28)};
\addplot[comp] coordinates {(8.0,0.3)(8.75,0.35)(9.05,0.45)(9.2,0.57)(9.35,0.65)(9.5,0.57)(9.65,0.45)(9.95,0.35)(11,0.3)};
\addplot[fit] coordinates {(5.5,0.2)(6.0,0.21)(6.5,0.22)(6.65,0.25)(6.72,0.5)(6.75,0.85)(6.78,0.5)(6.85,0.28)(7.2,0.26)(7.6,0.3)(7.9,0.4)(8.1,0.6)(8.25,0.85)(8.4,1.1)(8.55,0.85)(8.75,0.6)(9.0,0.6)(9.3,0.7)(9.6,0.6)(9.9,0.45)(10.3,0.38)(11.0,0.35)(11.8,0.38)(12.2,0.42)(12.3,0.45)(12.4,0.42)(13.0,0.42)};
% ---------- P8 ----------
\nextgroupplot[title={F09-2 (0.108)}, ymin=-5.2, ymax=14.8, ytick={-5,0,5,10}]
\addplot[spec=0.5] table {\rH};
\addplot[binned] table {\rH};
\addplot[resid] table {\gH};
\addplot[off] coordinates {(5,-2.5)(13,-2.5)};
\addplot[zero] coordinates {(5,0.0)(12.2,0.0)};
\addplot[cont] coordinates {(5,0.3)(12.2,0.3)};
\addplot[comp] coordinates {(5,0.35)(6.5,0.6)(6.7,1.4)(6.8,3.0)(6.9,5.8)(7.0,3.0)(7.1,1.4)(7.3,0.6)(8.5,0.35)};
\addplot[comp] coordinates {(5,0.5)(6.5,1.0)(7.5,2.0)(7.85,3.5)(8.2,5.8)(8.55,9.8)(8.9,5.8)(9.25,3.5)(9.6,2.0)(10.5,1.0)(12.2,0.5)};
\addplot[comp] coordinates {(8.0,0.5)(8.8,1.0)(9.05,1.5)(9.3,2.3)(9.55,3.8)(9.8,2.3)(10.05,1.5)(10.3,1.0)(11.5,0.5)};
\addplot[comp] coordinates {(9.8,0.4)(10.3,0.7)(10.6,1.2)(10.9,0.7)(11.4,0.4)};
\addplot[comp] coordinates {(11.0,0.4)(11.6,0.8)(11.9,1.5)(12.1,2.6)(12.2,3.5)};
\addplot[fit] coordinates {(5.0,0.5)(5.5,0.6)(6.0,0.8)(6.4,1.2)(6.7,2.3)(6.9,6.0)(7.1,2.8)(7.4,2.5)(7.7,3.0)(8.0,4.6)(8.3,8.0)(8.55,10.2)(8.8,8.8)(9.1,6.2)(9.4,5.8)(9.6,5.6)(9.9,3.5)(10.2,2.0)(10.5,1.7)(10.7,1.8)(11.0,1.2)(11.4,0.9)(11.8,1.3)(12.0,2.3)(12.2,4.0)};
% ---------- P9 ----------
\nextgroupplot[title={F10-8 (0.465)}, ymin=-1.17, ymax=3.1, ytick={-1,0,1,2}]
\addplot[spec=0.35] table {\rI};
\addplot[binned] table {\rI};
\addplot[resid] table {\gI};
\addplot[off] coordinates {(5,-0.5)(13,-0.5)};
\addplot[zero] coordinates {(5,0.05)(13,0.05)};
\addplot[cont] coordinates {(5,0.1)(13,0.1)};
\addplot[comp] coordinates {(8,0.13)(8.7,0.2)(8.86,0.3)(8.98,0.5)(9.1,0.9)(9.22,0.5)(9.34,0.3)(9.5,0.2)(10.5,0.13)};
\addplot[comp] coordinates {(9,0.15)(10.0,0.3)(10.6,0.48)(10.86,0.8)(11.08,1.3)(11.3,2.0)(11.52,1.3)(11.74,0.8)(12.0,0.48)(12.6,0.3)(13,0.25)};
\addplot[comp] coordinates {(12.5,0.15)(12.7,0.4)(12.8,0.9)(12.9,0.4)(13,0.2)};
\addplot[fit] coordinates {(5.0,0.12)(6.0,0.14)(7.0,0.16)(8.0,0.22)(8.7,0.35)(8.95,0.6)(9.1,0.9)(9.25,0.6)(9.5,0.35)(9.9,0.3)(10.3,0.38)(10.7,0.7)(11.0,1.35)(11.3,2.1)(11.6,1.3)(11.9,0.6)(12.2,0.38)(12.6,0.35)(12.75,0.8)(12.8,1.0)(12.85,0.7)(13.0,0.3)};
% ---------- P10 ----------
\nextgroupplot[dec, title={F10-10 (0.293)}, ymin=-0.57, ymax=1.71, ytick={-0.5,0,0.5,1,1.5}]
\addplot[spec=0.25] table {\rJ};
\addplot[binned] table {\rJ};
\addplot[resid] table {\gJ};
\addplot[off] coordinates {(5,-0.3)(13,-0.3)};
\addplot[zero] coordinates {(5,0.0)(13,0.0)};
\addplot[cont] coordinates {(5,0.01)(13,0.01)};
\addplot[comp] coordinates {(7.5,0.02)(7.9,0.07)(8.0,0.15)(8.07,0.35)(8.15,0.55)(8.23,0.35)(8.3,0.15)(8.4,0.07)(8.8,0.02)};
\addplot[comp] coordinates {(5.0,0.02)(6.5,0.06)(7.3,0.14)(7.8,0.22)(8.2,0.25)(8.6,0.22)(9.1,0.14)(10,0.06)(12,0.02)};
\addplot[comp] coordinates {(6,0.02)(8,0.07)(8.8,0.2)(9.2,0.3)(9.6,0.55)(10.0,1.1)(10.4,0.55)(10.8,0.3)(11.2,0.2)(12,0.07)(13,0.03)};
\addplot[comp] coordinates {(10.2,0.03)(10.6,0.1)(10.85,0.25)(11.0,0.4)(11.15,0.25)(11.4,0.1)(11.8,0.03)};
\addplot[fit] coordinates {(5.0,0.03)(6.0,0.05)(7.0,0.1)(7.5,0.15)(7.8,0.3)(8.0,0.45)(8.15,0.65)(8.3,0.45)(8.5,0.3)(8.8,0.3)(9.2,0.5)(9.6,0.85)(10.0,1.1)(10.4,0.85)(10.7,0.55)(10.9,0.5)(11.0,0.5)(11.2,0.35)(11.6,0.15)(12.0,0.08)(13.0,0.05)};
% ---------- P11 ----------
\nextgroupplot[dec, title={F10-13 (0.473)}, ymin=-0.75, ymax=2.25, ytick={-0.5,0,0.5,1,1.5,2}]
\addplot[spec=0.3] table {\rK};
\addplot[binned] table {\rK};
\addplot[resid] table {\gK};
\addplot[off] coordinates {(5,-0.35)(13,-0.35)};
\addplot[zero] coordinates {(5,0.03)(12.5,0.03)};
\addplot[cont] coordinates {(5,0.05)(12.5,0.05)};
\addplot[comp] coordinates {(8.0,0.07)(8.7,0.15)(8.9,0.3)(9.03,0.55)(9.15,0.85)(9.27,0.55)(9.4,0.3)(9.6,0.15)(10.5,0.07)};
\addplot[comp] coordinates {(8,0.08)(9.5,0.2)(10.35,0.35)(10.7,0.55)(11.05,0.8)(11.4,1.5)(11.75,0.8)(12.1,0.55)(12.5,0.35)};
\addplot[fit] coordinates {(5.0,0.05)(7.0,0.08)(8.0,0.12)(8.7,0.22)(8.95,0.45)(9.15,0.9)(9.35,0.45)(9.6,0.3)(10.0,0.3)(10.4,0.45)(10.8,0.75)(11.1,1.2)(11.4,1.55)(11.7,1.2)(12.0,0.7)(12.3,0.45)(12.5,0.35)};
% ---------- P12 ----------
\nextgroupplot[dec, title={F10-19 (0.409)}, ymin=-0.75, ymax=2.25, ytick={-0.5,0,0.5,1,1.5,2}]
\addplot[spec=0.3] table {\rL};
\addplot[binned] table {\rL};
\addplot[resid] table {\gL};
\addplot[off] coordinates {(5,-0.35)(13,-0.35)};
\addplot[zero] coordinates {(5,0.03)(13,0.03)};
\addplot[cont] coordinates {(5,0.05)(13,0.05)};
\addplot[comp] coordinates {(5.5,0.05)(7.3,0.1)(8.05,0.2)(8.4,0.35)(8.8,0.7)(9.2,0.35)(9.55,0.2)(10.3,0.1)(12,0.05)};
\addplot[comp] coordinates {(9.0,0.05)(10.0,0.1)(10.45,0.25)(10.65,0.75)(10.85,1.5)(11.05,0.75)(11.25,0.25)(11.7,0.1)(12.7,0.05)};
\addplot[comp] coordinates {(11.0,0.07)(11.5,0.15)(11.8,0.3)(11.95,0.45)(12.1,0.55)(12.25,0.45)(12.4,0.3)(12.7,0.15)(13.0,0.1)};
\addplot[fit] coordinates {(5.0,0.05)(6.5,0.08)(7.5,0.2)(8.0,0.32)(8.4,0.5)(8.8,0.72)(9.2,0.5)(9.6,0.28)(10.0,0.3)(10.4,0.5)(10.65,0.9)(10.85,1.55)(11.05,0.9)(11.3,0.5)(11.7,0.35)(11.95,0.5)(12.1,0.6)(12.3,0.5)(12.6,0.3)(13.0,0.18)};
% ---------- P13 ----------
\nextgroupplot[title={F11-7 (0.175)}, ymin=-2.36, ymax=5.7, ytick={-2,0,2,4}]
\addplot[spec=0.5] table {\rM};
\addplot[binned] table {\rM};
\addplot[resid] table {\gM};
\addplot[off] coordinates {(5,-1.1)(13,-1.1)};
\addplot[zero] coordinates {(5,0.05)(13,0.05)};
\addplot[cont] coordinates {(5,0.15)(13,0.15)};
\addplot[comp] coordinates {(6.0,0.18)(6.9,0.35)(7.1,0.6)(7.2,1.2)(7.3,2.4)(7.4,1.2)(7.5,0.6)(7.7,0.35)(8.6,0.18)};
\addplot[comp] coordinates {(5.5,0.25)(7.0,0.5)(8.05,0.9)(8.45,1.4)(8.65,2.2)(9.05,4.1)(9.45,2.2)(9.65,1.4)(10.05,0.9)(11.0,0.5)(13.0,0.25)};
\addplot[comp] coordinates {(8.5,0.25)(9.35,0.6)(9.6,0.9)(9.85,1.5)(10.1,2.7)(10.35,1.5)(10.6,0.9)(10.85,0.6)(11.7,0.25)};
\addplot[comp] coordinates {(11.8,0.18)(12.5,0.3)(12.8,0.5)(13.0,0.8)};
\addplot[fit] coordinates {(5.0,0.2)(6.0,0.3)(6.6,0.5)(7.0,0.9)(7.2,1.8)(7.3,2.6)(7.4,1.8)(7.6,1.2)(7.9,1.4)(8.3,2.0)(8.65,3.0)(9.05,4.1)(9.45,3.2)(9.75,2.5)(10.1,2.8)(10.4,1.8)(10.8,1.0)(11.2,0.6)(11.8,0.4)(12.4,0.4)(12.8,0.6)(13.0,0.9)};
% ---------- P14 ----------
\nextgroupplot[title={F11-11 (0.180)}, ymin=-1.2, ymax=3.5, ytick={-1,0,1,2,3}]
\addplot[spec=0.35] table {\rN};
\addplot[binned] table {\rN};
\addplot[resid] table {\gN};
\addplot[off] coordinates {(5,-0.6)(13,-0.6)};
\addplot[zero] coordinates {(5,0.0)(12.3,0.0)};
\addplot[cont] coordinates {(5,0.35)(12.3,0.35)};
\addplot[zero] coordinates {(5,0.42)(12.0,0.42)};
\addplot[comp] coordinates {(6.5,0.42)(7.1,0.5)(7.2,0.6)(7.3,0.9)(7.4,1.4)(7.5,0.9)(7.6,0.6)(7.7,0.5)(8.5,0.42)};
\addplot[comp] coordinates {(7.5,0.45)(8.5,0.6)(8.75,0.8)(8.95,1.3)(9.15,2.3)(9.35,1.3)(9.55,0.8)(9.8,0.6)(11,0.45)};
\addplot[comp] coordinates {(9.4,0.45)(9.8,0.55)(10.0,0.65)(10.2,0.8)(10.4,0.65)(10.6,0.55)(11.0,0.45)};
\addplot[fit] coordinates {(5.0,0.42)(6.0,0.45)(6.8,0.5)(7.15,0.65)(7.3,1.05)(7.4,1.45)(7.5,1.05)(7.7,0.6)(8.0,0.5)(8.5,0.65)(8.8,1.1)(9.0,1.8)(9.15,2.3)(9.3,1.8)(9.55,0.95)(9.85,0.75)(10.1,0.85)(10.2,0.85)(10.5,0.65)(11.0,0.5)(11.5,0.45)(12.0,0.42)};
% ---------- P15 ----------
\nextgroupplot[title={F11-19 (0.084)}, ymin=-0.97, ymax=2.74, ytick={0,1,2}]
\addplot[spec=0.3] table {\rO};
\addplot[binned] table {\rO};
\addplot[resid] table {\gO};
\addplot[off] coordinates {(5,-0.5)(13,-0.5)};
\addplot[zero] coordinates {(5,0.0)(11.3,0.0)};
\addplot[cont] coordinates {(5,0.35)(11.3,0.35)};
\addplot[zero] coordinates {(5,0.3)(11.3,0.3)};
\addplot[comp] coordinates {(5.5,0.33)(6.3,0.4)(6.45,0.5)(6.58,0.7)(6.7,1.1)(6.82,0.7)(6.95,0.5)(7.1,0.4)(8.0,0.33)};
\addplot[comp] coordinates {(6.5,0.38)(7.4,0.5)(7.9,0.7)(8.15,1.05)(8.4,1.8)(8.65,1.05)(8.9,0.7)(9.4,0.5)(10.5,0.38)};
\addplot[comp] coordinates {(8.4,0.35)(8.8,0.45)(9.0,0.55)(9.2,0.75)(9.4,0.55)(9.6,0.45)(10.0,0.35)};
\addplot[fit] coordinates {(5.0,0.32)(6.0,0.38)(6.4,0.5)(6.6,0.85)(6.7,1.1)(6.8,0.85)(7.0,0.5)(7.3,0.45)(7.7,0.6)(8.0,1.0)(8.2,1.5)(8.4,1.85)(8.6,1.5)(8.85,0.95)(9.2,0.8)(9.5,0.55)(10.0,0.4)(10.5,0.35)(11.3,0.32)};
% ---------- P16 ----------
\nextgroupplot[dec, title={F11-23 (0.081)}, ymin=-0.73, ymax=2.04, ytick={-0.5,0,0.5,1,1.5}]
\addplot[spec=0.25] table {\rP};
\addplot[binned] table {\rP};
\addplot[resid] table {\gP};
\addplot[off] coordinates {(5,-0.35)(13,-0.35)};
\addplot[zero] coordinates {(5,0.0)(13,0.0)};
\addplot[cont] coordinates {(5,0.02)(13,0.02)};
\addplot[comp] coordinates {(5.8,0.03)(6.3,0.06)(6.5,0.14)(6.6,0.3)(6.7,0.55)(6.8,0.3)(6.9,0.14)(7.1,0.06)(7.6,0.03)};
\addplot[comp] coordinates {(6.5,0.03)(7.6,0.1)(8.0,0.3)(8.2,0.72)(8.4,1.45)(8.6,0.72)(8.8,0.3)(9.2,0.1)(10.3,0.03)};
\addplot[comp] coordinates {(7.8,0.04)(8.7,0.1)(9.0,0.2)(9.15,0.32)(9.3,0.4)(9.45,0.32)(9.6,0.2)(9.9,0.1)(10.8,0.04)};
\addplot[comp] coordinates {(11.3,0.03)(11.8,0.07)(12.0,0.18)(12.1,0.42)(12.2,0.85)(12.3,0.42)(12.4,0.18)(12.6,0.07)(13,0.03)};
\addplot[fit] coordinates {(5.0,0.03)(6.0,0.05)(6.4,0.12)(6.6,0.35)(6.7,0.58)(6.8,0.35)(7.0,0.18)(7.5,0.25)(7.9,0.45)(8.2,0.95)(8.4,1.5)(8.6,0.95)(8.85,0.6)(9.3,0.5)(9.7,0.3)(10.2,0.12)(11.0,0.08)(11.8,0.15)(12.05,0.45)(12.2,0.88)(12.35,0.45)(12.6,0.15)(13.0,0.08)};
% ---------- P17 ----------
\nextgroupplot[title={F20-3 (0.090)}, ymin=-6.4, ymax=16.7, ytick={-5,0,5,10,15}]
\addplot[spec=0.7] table {\rQ};
\addplot[binned] table {\rQ};
\addplot[resid] table {\gQ};
\addplot[off] coordinates {(5,-3)(13,-3)};
\addplot[zero] coordinates {(5,0.3)(13,0.3)};
\addplot[cont] coordinates {(5,0.8)(13,1.5)};
\addplot[comp] coordinates {(5.5,1.0)(6.4,1.4)(6.6,2.2)(6.7,3.8)(6.8,6.8)(6.9,3.8)(7.0,2.2)(7.2,1.4)(8.2,1.0)};
\addplot[comp] coordinates {(5.0,1.1)(6.5,1.8)(7.6,3.3)(8.0,5.4)(8.4,10.2)(8.8,5.4)(9.2,3.3)(10.3,1.8)(13,1.2)};
\addplot[comp] coordinates {(8.0,1.1)(8.85,1.9)(9.1,3.0)(9.35,4.8)(9.6,3.0)(9.85,1.9)(10.5,1.2)};
\addplot[comp] coordinates {(10.5,1.3)(11.55,2.0)(11.8,2.8)(12.05,4.2)(12.3,6.6)(12.55,4.2)(12.8,2.8)(13,2.2)};
\addplot[fit] coordinates {(5.0,1.0)(6.0,1.4)(6.5,2.2)(6.7,4.5)(6.8,6.8)(6.9,4.5)(7.1,2.6)(7.5,2.8)(7.9,5.0)(8.2,8.5)(8.4,10.5)(8.65,9.2)(8.95,6.8)(9.3,6.3)(9.6,5.0)(9.9,3.6)(10.3,2.6)(10.8,2.4)(11.3,2.6)(11.8,3.5)(12.1,5.2)(12.3,6.8)(12.5,5.2)(12.8,3.0)(13.0,2.3)};
% ---------- P18 ----------
\nextgroupplot[title={F20-10 (0.439)}, ymin=-1.3, ymax=3.75, ytick={-1,0,1,2,3}]
\addplot[spec=0.3] table {\rR};
\addplot[binned] table {\rR};
\addplot[resid] table {\gR};
\addplot[off] coordinates {(5,-0.65)(13,-0.65)};
\addplot[zero] coordinates {(5,0.03)(13,0.03)};
\addplot[cont] coordinates {(5,0.05)(13,0.05)};
\addplot[comp] coordinates {(8.0,0.08)(8.6,0.15)(8.76,0.25)(8.88,0.5)(9.0,0.85)(9.12,0.5)(9.24,0.25)(9.4,0.15)(10,0.08)};
\addplot[comp] coordinates {(8.0,0.1)(9.3,0.25)(10.25,0.55)(10.7,1.3)(11.15,2.6)(11.6,1.3)(12.05,0.55)(12.5,0.32)(13,0.22)};
\addplot[fit] coordinates {(5.0,0.06)(7.0,0.08)(8.0,0.15)(8.6,0.28)(8.85,0.6)(9.0,0.9)(9.15,0.6)(9.4,0.35)(9.8,0.42)(10.2,0.8)(10.6,1.5)(10.9,2.3)(11.15,2.65)(11.4,2.3)(11.7,1.5)(12.1,0.8)(12.5,0.45)(13.0,0.3)};
% ---------- P19 ----------
\nextgroupplot[title={F21-1 (0.044)}, ymin=-2.6, ymax=7.5, ytick={-2,0,2,4,6}]
\addplot[spec=0.5] table {\rS};
\addplot[binned] table {\rS};
\addplot[resid] table {\gS};
\addplot[off] coordinates {(5,-1.3)(13,-1.3)};
\addplot[zero] coordinates {(5,0.1)(13,0.1)};
\addplot[cont] coordinates {(5,0.2)(13,0.2)};
\addplot[comp] coordinates {(5.5,0.25)(6.15,0.45)(6.35,0.7)(6.45,1.4)(6.55,2.7)(6.65,1.4)(6.75,0.7)(6.95,0.45)(7.8,0.25)};
\addplot[comp] coordinates {(5.5,0.35)(6.8,0.9)(7.5,1.6)(7.8,2.7)(8.1,5.2)(8.4,2.7)(8.7,1.6)(9.4,0.9)(11,0.4)(13,0.3)};
\addplot[comp] coordinates {(7.8,0.35)(8.5,0.6)(8.75,1.1)(9.0,2.2)(9.25,1.1)(9.5,0.6)(10.3,0.3)};
\addplot[comp] coordinates {(10.0,0.35)(11.0,0.55)(11.25,0.9)(11.5,1.9)(11.75,3.8)(12.0,1.9)(12.25,0.9)(12.5,0.55)(13,0.35)};
\addplot[fit] coordinates {(5.0,0.3)(6.0,0.6)(6.3,1.0)(6.45,1.8)(6.55,2.8)(6.65,1.8)(6.8,1.2)(7.1,1.3)(7.5,2.0)(7.8,3.5)(8.1,5.3)(8.4,3.9)(8.7,2.7)(9.0,2.7)(9.3,1.9)(9.7,1.1)(10.3,0.7)(10.8,0.8)(11.2,1.3)(11.5,2.3)(11.75,3.8)(12.0,2.3)(12.3,1.2)(12.7,0.6)(13.0,0.45)};
% ---------- P20 ----------
\nextgroupplot[dec, title={F21-20 (0.405)}, ymin=-0.7, ymax=1.82, ytick={-0.5,0,0.5,1,1.5}]
\addplot[spec=0.2] table {\rT};
\addplot[binned] table {\rT};
\addplot[resid] table {\gT};
\addplot[off] coordinates {(5,-0.35)(13,-0.35)};
\addplot[zero] coordinates {(5,0.05)(13,0.05)};
\addplot[cont] coordinates {(5,0.02)(13,0.02)};
\addplot[comp] coordinates {(5.0,0.0)(8.0,0.05)(10.0,0.15)(12.0,0.27)(13.0,0.35)};
\addplot[comp] coordinates {(8.2,0.08)(8.55,0.15)(8.65,0.35)(8.72,0.8)(8.75,1.1)(8.78,0.8)(8.85,0.35)(8.95,0.15)(9.3,0.08)};
\addplot[comp] coordinates {(6.0,0.05)(8.0,0.2)(9.2,0.35)(9.7,0.55)(10.3,0.85)(10.9,1.05)(11.5,0.85)(12.1,0.55)(12.6,0.38)(13,0.32)};
\addplot[fit] coordinates {(5.0,0.05)(6.0,0.08)(7.0,0.13)(8.0,0.28)(8.5,0.42)(8.68,0.8)(8.75,1.2)(8.82,0.8)(9.0,0.55)(9.5,0.72)(10.0,0.95)(10.5,1.15)(10.9,1.22)(11.3,1.15)(11.8,0.95)(12.3,0.8)(12.7,0.7)(13.0,0.65)};
\end{groupplot}
\pgfresetboundingbox
\path[use as bounding box] ($(group c1r1.north west)+(-52pt,6pt)$) rectangle ($(group c1r5.south west)+(793pt,-41pt)$);
\end{tikzpicture}
\end{document}
